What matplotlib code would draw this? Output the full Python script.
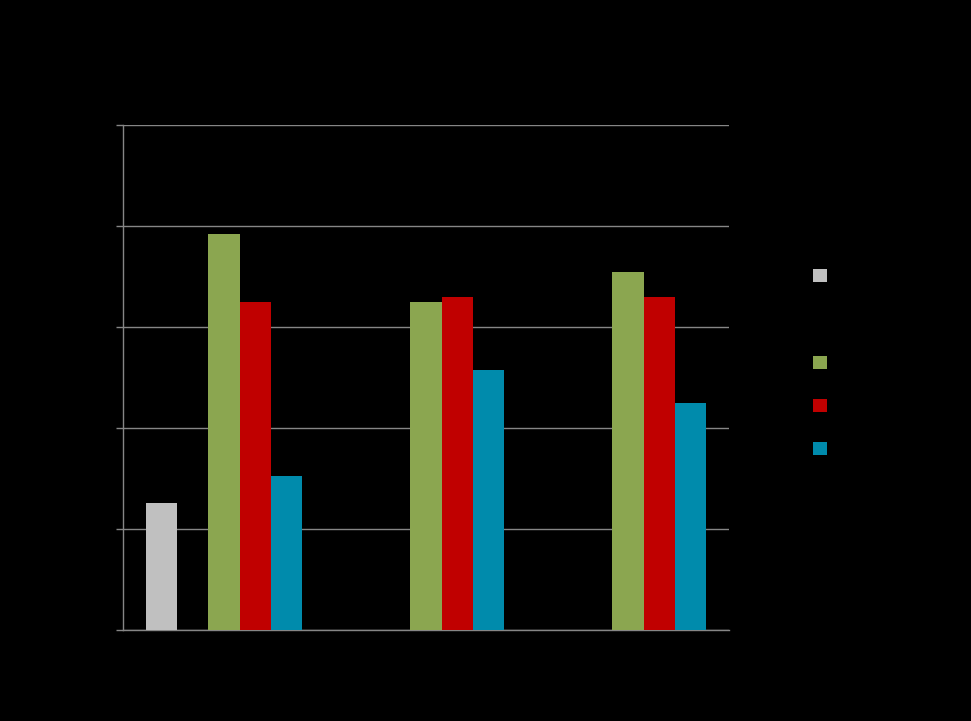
import numpy as np
import matplotlib
matplotlib.use("Agg")
import matplotlib.pyplot as plt
from matplotlib.patches import Patch

# %% Data (all text in the reference is black on black)

categories = ["", "", ""]
series_names = ["", "", "", "", ""]
gray_values = [1.26, np.nan, np.nan]
dark_values = [np.nan, np.nan, np.nan]   # legend slot with no visible bars
green_values = [3.92, 3.25, 3.54]
red_values = [3.25, 3.30, 3.30]
blue_values = [1.52, 2.57, 2.25]

series_values = [gray_values, dark_values, green_values, red_values, blue_values]
series_colors = ["#C0C0C0", "#000000", "#8BA650", "#C00000", "#008BAC"]

y_ticks = [0, 1, 2, 3, 4, 5]


# %% Plot

fig = plt.figure(figsize=(9.71, 7.21), dpi=100, facecolor="black")
ax = fig.add_axes([123 / 971, 91 / 721, 606 / 971, 505 / 721], facecolor="black")

n_series = len(series_values)
bar_w = 1 / (n_series + 1.5)
x = np.arange(len(categories))

for i, (vals, color) in enumerate(zip(series_values, series_colors)):
    offset = (i - (n_series - 1) / 2) * bar_w
    ax.bar(x + offset, vals, width=bar_w, color=color, linewidth=0, zorder=3)

grid_color = "#868686"
ax.set_xlim(-0.5, len(categories) - 0.5)
ax.set_ylim(0, 5)
ax.set_yticks(y_ticks)
ax.set_yticklabels([""] * len(y_ticks))
ax.set_xticks(x)
ax.set_xticklabels(categories)
ax.tick_params(axis="y", length=5, width=1, color=grid_color, direction="out")
ax.tick_params(axis="x", length=0)
ax.yaxis.grid(True, color=grid_color, linewidth=1)
ax.set_axisbelow(True)

for side in ["top", "right"]:
    ax.spines[side].set_visible(False)
for side in ["left", "bottom"]:
    ax.spines[side].set_color(grid_color)
    ax.spines[side].set_linewidth(1)

handles = [Patch(facecolor=c, edgecolor="none") for c in series_colors]
fig.legend(
    handles,
    series_names,
    loc="upper left",
    bbox_to_anchor=(813 / 971, 1 - 269 / 721),
    frameon=False,
    borderpad=0,
    borderaxespad=0,
    handlelength=1.0,
    handleheight=1.05,
    labelspacing=2.1,
    fontsize=10,
    labelcolor="black",
)

fig.savefig("out.png", dpi=100, facecolor="black")
